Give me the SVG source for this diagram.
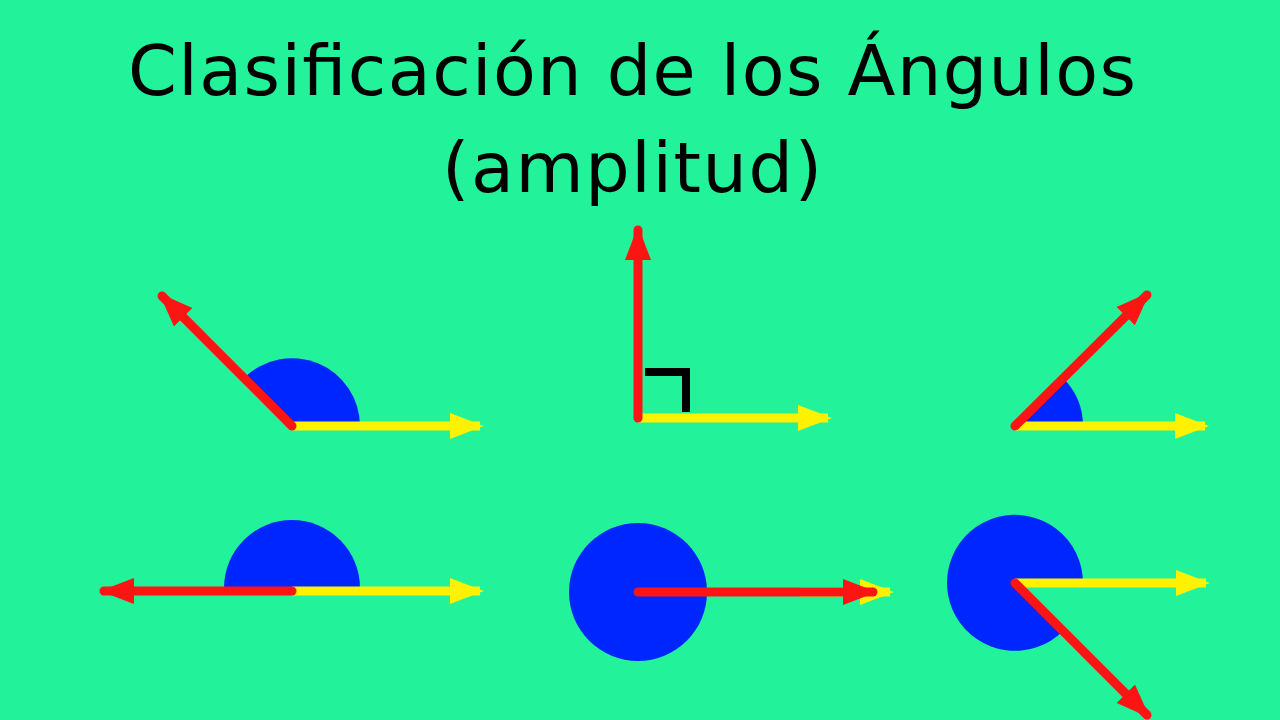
<svg xmlns="http://www.w3.org/2000/svg" width="1280" height="720" viewBox="0 0 1280 720">
<style>
.t{font-family:"DejaVu Sans","Liberation Sans",sans-serif;font-size:70px;fill:#000;text-anchor:middle}
.r{stroke:#FF1414;stroke-width:9;stroke-linecap:round;fill:none}
.y{stroke:#FFF200;stroke-width:9;fill:none}
.b{fill:#0026FF}
</style>
<defs>
<marker id="ar" markerUnits="userSpaceOnUse" markerWidth="36" markerHeight="30" refX="30" refY="15" orient="auto"><polygon points="0,2 34,15 0,28" fill="#FF1414"/></marker>
<marker id="ay" markerUnits="userSpaceOnUse" markerWidth="36" markerHeight="30" refX="30" refY="15" orient="auto"><polygon points="0,2 34,15 0,28" fill="#FFF200"/></marker>
</defs>
<rect width="1280" height="720" fill="#22F29A"/>
<text class="t" x="632" y="95" textLength="1008">Clasificación de los Ángulos</text>
<text class="t" x="632" y="192" textLength="380">(amplitud)</text>
<g id="obtuse">
<path class="b" d="M292,426 L360,426 A68 68 0 0 0 244,378 Z"/>
<line class="y" x1="292" y1="426" x2="480" y2="426" marker-end="url(#ay)"/>
<line class="r" x1="292" y1="426" x2="162" y2="296" marker-end="url(#ar)"/>
</g>
<g id="right">
<polyline points="645,372 686,372 686,412" fill="none" stroke="#000" stroke-width="8"/>
<line class="y" x1="638" y1="418" x2="828" y2="418" marker-end="url(#ay)"/>
<line class="r" x1="638" y1="418" x2="638" y2="230" marker-end="url(#ar)"/>
</g>
<g id="acute">
<path class="b" d="M1015,426 L1083,426 A68 68 0 0 0 1063,378 Z"/>
<line class="y" x1="1015" y1="426" x2="1205" y2="426" marker-end="url(#ay)"/>
<line class="r" x1="1015" y1="426" x2="1147" y2="295" marker-end="url(#ar)"/>
</g>
<g id="straight">
<path class="b" d="M224,588 A68 68 0 0 1 360,588 Z"/>
<line class="y" x1="292" y1="591" x2="480" y2="591" marker-end="url(#ay)"/>
<line class="r" x1="292" y1="591" x2="104" y2="591" marker-end="url(#ar)"/>
</g>
<g id="full">
<circle class="b" cx="638" cy="592" r="69"/>
<line class="y" x1="800" y1="592" x2="890" y2="592" marker-end="url(#ay)"/>
<line class="r" x1="638" y1="592" x2="873" y2="592" marker-end="url(#ar)"/>
</g>
<g id="reflex">
<path class="b" d="M1015,583 L1083,583 A68 68 0 1 0 1063,631 Z"/>
<line class="y" x1="1015" y1="583" x2="1206" y2="583" marker-end="url(#ay)"/>
<line class="r" x1="1015" y1="583" x2="1147" y2="715" marker-end="url(#ar)"/>
</g>
</svg>
